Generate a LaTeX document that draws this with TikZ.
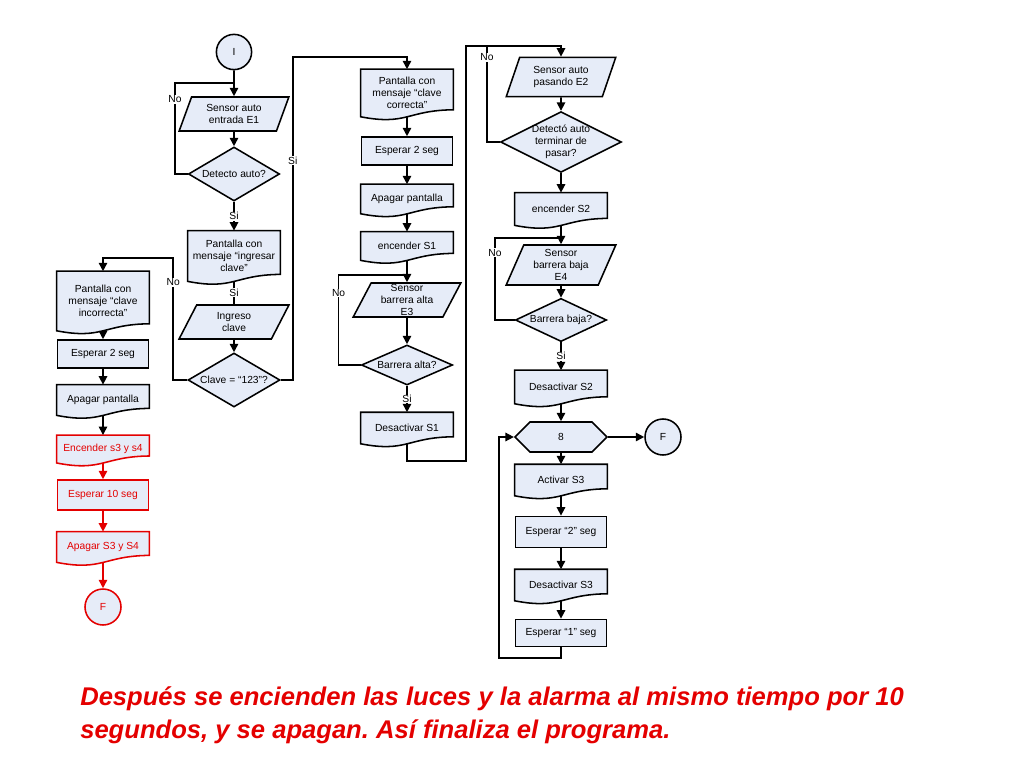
\documentclass[tikz,border=0pt]{standalone}
\usepackage{fontspec}
\setmainfont{Liberation Sans}
\usetikzlibrary{shapes.geometric, shapes.symbols, arrows.meta, positioning, calc, backgrounds}

\definecolor{boxfill}{RGB}{230,236,248}
\definecolor{alertred}{RGB}{228,0,0}

\tikzset{
  blk/.style={draw, line width=1.1pt, fill=boxfill, align=center, inner sep=1pt,
    font=\fontsize{7.3}{8.4}\selectfont},
  proc/.style={blk, rectangle, minimum width=2.28cm, minimum height=0.72cm},
  doc/.style={blk, draw=none, fill=none, rectangle, minimum width=2.28cm, minimum height=0.72cm},
  io/.style={blk, trapezium, trapezium left angle=67, trapezium right angle=113,
    trapezium stretches=true, minimum width=2.75cm, minimum height=0.85cm, inner sep=0pt},
  dec/.style={blk, diamond, aspect=1.67, inner sep=-2pt, minimum width=2.28cm, minimum height=1.35cm},
  term/.style={blk, circle, minimum size=0.88cm},
  loopbox/.style={blk, signal, signal to=east and west, signal pointer angle=90,
    minimum width=2.3cm, minimum height=0.75cm},
  lbl/.style={fill=white, inner sep=0.5pt, font=\fontsize{7.3}{8.4}\selectfont},
  wire/.style={line width=1.1pt},
  flow/.style={wire, ->},
  redbox/.style={draw=alertred, text=alertred},
  note/.style={text=alertred, anchor=base west, inner sep=0pt,
    font=\fontsize{18.2}{22}\selectfont\bfseries\itshape}
}

\begin{document}
\frenchspacing
\begin{tikzpicture}[x=0.025cm, y=-0.025cm, >={Triangle[length=6pt, width=6pt]}]
  \useasboundingbox (0,0) rectangle (1024,768);

  % columna de entrada
  \node[term] (ini) at (234,52) {I};
  \node[io] (sen1) at (234,114) {Sensor auto\\entrada E1};
  \node[dec] (det1) at (234,174) {Detecto auto?};
  \node[doc, minimum height=1.23cm] (msgIn) at (234,256) {Pantalla con\\mensaje “ingresar\\clave”};
  \node[io] (ing) at (234,322) {Ingreso\\clave};
  \node[dec, aspect=1.7, minimum width=2.3cm] (clave) at (234,380) {Clave = “123”?};

  % clave incorrecta
  \node[doc, minimum height=1.45cm] (msgBad) at (103,301) {Pantalla con\\mensaje “clave\\incorrecta”};
  \node[proc, minimum height=0.7cm] (wait2a) at (103,354) {Esperar 2 seg};
  \node[doc, minimum height=0.73cm] (offA) at (103,400) {Apagar pantalla};
  \node[doc, text=alertred, minimum height=0.66cm] (onRed) at (103,449) {Encender s3 y s4};
  \node[proc, redbox, minimum height=0.75cm] (wait10) at (103,495) {Esperar 10 seg};
  \node[doc, text=alertred, minimum height=0.73cm] (offRed) at (103,547) {Apagar S3 y S4};
  \node[term, redbox, minimum size=0.9cm] (endRed) at (103,607) {F};

  % clave correcta
  \node[doc, minimum height=1.15cm] (msgOk) at (407,93) {Pantalla con\\mensaje “clave\\correcta”};
  \node[proc, minimum height=0.7cm] (wait2b) at (407,151) {Esperar 2 seg};
  \node[doc, minimum height=0.7cm] (offB) at (407,199) {Apagar pantalla};
  \node[doc, minimum height=0.68cm] (onS1) at (407,246) {encender S1};
  \node[io, minimum width=2.7cm] (sen3) at (407,300) {Sensor\\barrera alta\\E3};
  \node[dec, aspect=2.27, minimum height=1.0cm] (det3) at (407,365) {Barrera alta?};
  \node[doc, minimum height=0.75cm] (offS1) at (407,428) {Desactivar S1};

  % paso del auto
  \node[io, minimum height=0.98cm] (sen2) at (561,77) {Sensor auto\\pasando E2};
  \node[dec, aspect=1.98, minimum width=3.02cm, minimum height=1.52cm] (det2) at (561,142) {Detectó auto\\terminar de\\pasar?};
  \node[doc, minimum height=0.78cm] (onS2) at (561,209) {encender S2};
  \node[io, minimum height=1.0cm] (sen4) at (561,265) {Sensor\\barrera baja\\E4};
  \node[dec, aspect=2.1, minimum height=1.08cm] (det4) at (561,320) {Barrera baja?};
  \node[doc, minimum height=0.8cm] (offS2) at (561,387) {Desactivar S2};
  \node[loopbox] (cnt) at (561,437) {8};
  \node[term, minimum size=0.9cm] (endF) at (663,437) {F};
  \node[doc, minimum height=0.75cm] (actS3) at (561,480) {Activar S3};
  \node[proc, minimum height=0.78cm] (wait2c) at (561,532) {Esperar “2” seg};
  \node[doc, minimum height=0.75cm] (desS3) at (561,585) {Desactivar S3};
  \node[proc, minimum height=0.68cm] (wait1) at (561,633) {Esperar “1” seg};

  % texto final
  \node[note] (note1) at (80,705) {Después se encienden las luces y la alarma al mismo tiempo por 10};
  \node[note] (note2) at (80,738) {segundos, y se apagan. Así finaliza el programa.};

  % formas de documento
  \begin{scope}[on background layer]
    \foreach \n/\c in {msgIn/black, msgBad/black, offA/black, onRed/alertred, offRed/alertred,
        msgOk/black, offB/black, onS1/black, offS1/black, onS2/black, offS2/black,
        actS3/black, desS3/black}
      \draw[wire, fill=boxfill, draw=\c] (\n.north west) -- (\n.south west)
        .. controls ($(\n.south)+(0,9)$) and ($(\n.south)+(0,-6.5)$) .. ($(\n.south east)+(0,-7)$)
        -- (\n.north east) -- cycle;
  \end{scope}

  \coordinate (jA) at (234,83);
  \coordinate (jI) at (175,83);
  \coordinate (jD) at (103,258);
  \coordinate (jE) at (407,57);
  \coordinate (jB) at (407,275);
  \coordinate (jF) at (466,461);
  \coordinate (jG) at (561,46);
  \coordinate (jTop) at (487,46);
  \coordinate (jC) at (561,238);
  \coordinate (jH) at (495,238);
  \coordinate (jL) at (499,658);

  \draw[flow] (ini) -- (sen1);
  \draw[flow] (sen1) -- (det1);
  \draw[wire] (det1.west) -| node[lbl, pos=0.91] (noA) {No} (jI) -- (jA);
  \draw[flow] (det1) -- node[lbl] (siA) {Si} (msgIn);
  \draw[wire] (msgIn) -- node[lbl] (siB) {Si} (ing);
  \draw[flow] (ing) -- (clave);
  \draw[flow] (clave.west) -- ++(-14,0) |- node[lbl, pos=0.4] (noB) {No} (jD) -- (msgBad);
  \draw[flow] (clave.east) -- ++(12,0) |- node[lbl, pos=0.34] (siC) {Si} (jE) -- (msgOk);

  \draw[flow] (msgBad) -- (wait2a);
  \draw[flow] (wait2a) -- (offA);
  \draw[flow] (offA) -- (onRed);
  \draw[flow, alertred] (onRed) -- (wait10);
  \draw[flow, alertred] (wait10) -- (offRed);
  \draw[flow, alertred] (offRed) -- (endRed);

  \draw[flow] (msgOk) -- (wait2b);
  \draw[flow] (wait2b) -- (offB);
  \draw[flow] (offB) -- (onS1);
  \draw[flow] (onS1) -- (sen3);
  \draw[flow] (sen3) -- (det3);
  \draw[wire] (det3.west) -- ++(-22,0) |- node[lbl, pos=0.4] (noC) {No} (jB);
  \draw[flow] (det3) -- node[lbl] (siD) {Si} (offS1);
  \draw[flow] (offS1.south) |- (jF) |- (jG) -- (sen2);

  \draw[flow] (sen2) -- (det2);
  \draw[wire] (det2.west) -| node[lbl, pos=0.94] (noD) {No} (jTop);
  \draw[flow] (det2) -- (onS2);
  \draw[flow] (onS2) -- (sen4);
  \draw[wire] (det4.west) -| node[lbl, pos=0.91] (noE) {No} (jH) -- (jC);
  \draw[flow] (sen4) -- (det4);
  \draw[flow] (det4) -- node[lbl] (siE) {Si} (offS2);
  \draw[flow] (offS2) -- (cnt);
  \draw[flow] (cnt) -- (endF);
  \draw[flow] (cnt) -- (actS3);
  \draw[flow] (actS3) -- (wait2c);
  \draw[flow] (wait2c) -- (desS3);
  \draw[flow] (desS3) -- (wait1);
  \draw[flow] (wait1.south) |- (jL) |- (cnt.west);
\end{tikzpicture}
\end{document}
